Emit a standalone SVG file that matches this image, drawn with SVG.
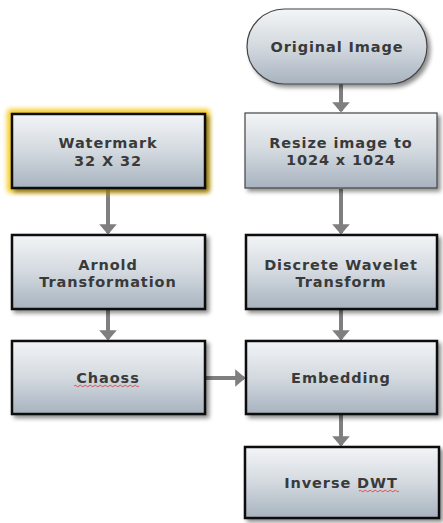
<svg xmlns="http://www.w3.org/2000/svg" width="443" height="523" viewBox="0 0 443 523">
<defs>
<linearGradient id="g" x1="0" y1="0" x2="0" y2="1">
<stop offset="0" stop-color="#f3f5f7"/>
<stop offset="0.5" stop-color="#d3d9df"/>
<stop offset="1" stop-color="#a7b3bf"/>
</linearGradient>
<filter id="sh" x="-10%" y="-10%" width="130%" height="140%">
<feGaussianBlur in="SourceAlpha" stdDeviation="2"/>
<feOffset dx="3" dy="3"/>
<feComponentTransfer><feFuncA type="linear" slope="0.45"/></feComponentTransfer>
<feMerge><feMergeNode/><feMergeNode in="SourceGraphic"/></feMerge>
</filter>
<filter id="glow" x="-10%" y="-20%" width="120%" height="140%">
<feGaussianBlur stdDeviation="2.5"/>
</filter>
<marker id="ah" markerWidth="2.6" markerHeight="4.4" refX="2.2" refY="2.2" orient="auto" markerUnits="strokeWidth">
<path d="M0,0 L2.6,2.2 L0,4.4 Z" fill="#7f7f7f"/>
</marker>
</defs>
<style>
.box{fill:url(#g);stroke:#111;stroke-width:2.5;filter:url(#sh)}
.thin{stroke:#444;stroke-width:1.2}
.t{font-family:"DejaVu Sans",Verdana,sans-serif;font-weight:bold;font-size:14.5px;letter-spacing:0.9px;fill:#3a3a3a;text-anchor:middle}
.c{fill:none;stroke:#7f7f7f;stroke-width:4;marker-end:url(#ah)}
.sq{fill:none;stroke:#e03030;stroke-width:0.8}
</style>
<g id="connectors">
<path class="c" d="M108,189 V233"/>
<path class="c" d="M108,310 V339"/>
<path class="c" d="M341,84 V111"/>
<path class="c" d="M341,189 V233"/>
<path class="c" d="M341,310 V339"/>
<path class="c" d="M206,378 H244"/>
<path class="c" d="M341,415 V445"/>
</g>
<g id="original-image">
<rect x="247" y="9" width="180" height="75" rx="37.5" class="box thin"/>
<text class="t" x="337" y="52">Original Image</text>
</g>
<g id="watermark">
<rect x="7" y="109" width="203" height="84" rx="4" fill="#f5c400" opacity="0.85" filter="url(#glow)"/>
<rect x="12" y="114" width="193" height="74" class="box"/>
<text class="t" x="108" y="148">Watermark</text>
<text class="t" x="108" y="166">32 X 32</text>
</g>
<g id="resize">
<rect x="245" y="113" width="192" height="75" class="box thin"/>
<text class="t" x="341" y="148">Resize image to</text>
<text class="t" x="341" y="165">1024 x 1024</text>
</g>
<g id="arnold">
<rect x="12" y="235" width="193" height="74" class="box"/>
<text class="t" x="108" y="270">Arnold</text>
<text class="t" x="108" y="287">Transformation</text>
</g>
<g id="dwt">
<rect x="246" y="235" width="191" height="74" class="box"/>
<text class="t" x="341" y="270">Discrete Wavelet</text>
<text class="t" x="341" y="287">Transform</text>
</g>
<g id="chaoss">
<rect x="12" y="341" width="193" height="73" class="box"/>
<text class="t" x="108" y="383">Chaoss</text>
<path class="sq" d="M74,386 q1.25,-1.5 2.5,0 t2.5,0 t2.5,0 t2.5,0 t2.5,0 t2.5,0 t2.5,0 t2.5,0 t2.5,0 t2.5,0 t2.5,0 t2.5,0 t2.5,0 t2.5,0 t2.5,0 t2.5,0 t2.5,0 t2.5,0 t2.5,0 t2.5,0 t2.5,0 t2.5,0 t2.5,0 t2.5,0 t2.5,0 t2.5,0"/>
</g>
<g id="embedding">
<rect x="246" y="341" width="191" height="73" class="box"/>
<text class="t" x="341" y="383">Embedding</text>
</g>
<g id="inverse-dwt">
<rect x="245" y="447" width="194" height="71" class="box"/>
<text class="t" x="341" y="488">Inverse DWT</text>
<path class="sq" d="M359,491 q1.25,-1.5 2.5,0 t2.5,0 t2.5,0 t2.5,0 t2.5,0 t2.5,0 t2.5,0 t2.5,0 t2.5,0 t2.5,0 t2.5,0 t2.5,0 t2.5,0 t2.5,0 t2.5,0 t2.5,0"/>
</g>
</svg>
